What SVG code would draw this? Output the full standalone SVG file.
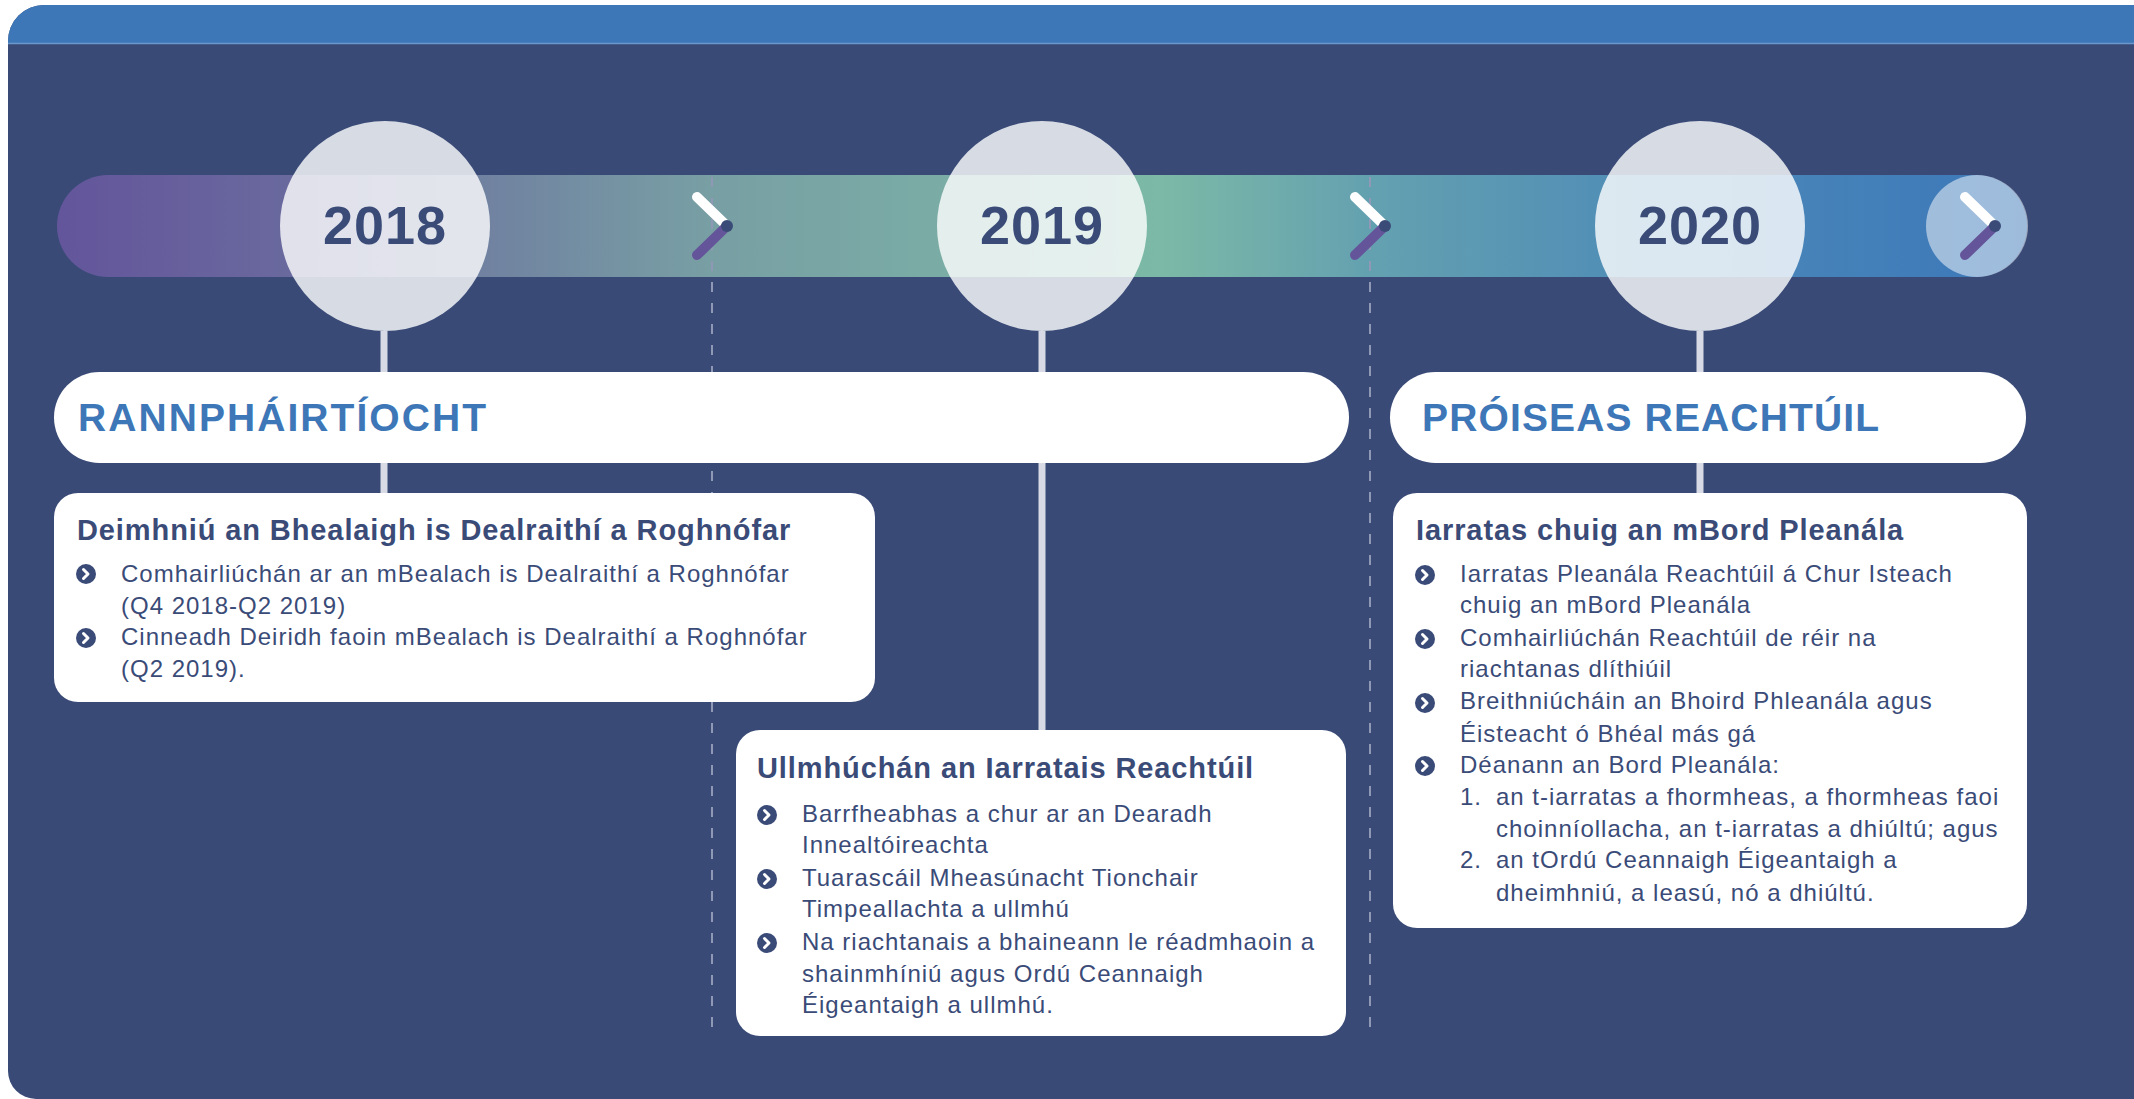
<svg xmlns="http://www.w3.org/2000/svg" xmlns:xlink="http://www.w3.org/1999/xlink" width="2134" height="1099" viewBox="0 0 2134 1099">
<defs>
<style>
.hd{font-family:"Liberation Sans",Arial,sans-serif;font-weight:bold;fill:#3d77b8;font-size:39px}
.yr{font-family:"Liberation Sans",Arial,sans-serif;font-weight:bold;fill:#3a4b78;font-size:54px;letter-spacing:1px}
.tt{font-family:"Liberation Sans",Arial,sans-serif;font-weight:bold;fill:#3a4b78;font-size:29px;letter-spacing:0.9px}
.tx{font-family:"Liberation Sans",Arial,sans-serif;fill:#3a4b78;font-size:24px;letter-spacing:1px}
.vl{stroke:#d8dbe6;stroke-width:7}
.dl{stroke:#8f99b6;stroke-width:2;stroke-dasharray:10 11}
.yc{fill:#ffffff;fill-opacity:0.8}
.pill{fill:#ffffff}
.box{fill:#ffffff}
</style>
<linearGradient id="barg" gradientUnits="userSpaceOnUse" x1="57" y1="0" x2="2027" y2="0">
<stop offset="0" stop-color="#63559b"/>
<stop offset="0.123" stop-color="#6a6a9e"/>
<stop offset="0.332" stop-color="#789fa4"/>
<stop offset="0.56" stop-color="#7cb9a6"/>
<stop offset="0.666" stop-color="#64a1b0"/>
<stop offset="0.834" stop-color="#4b88b8"/>
<stop offset="1" stop-color="#3c77b9"/>
</linearGradient>
<g id="chev">
<line x1="-30" y1="-29" x2="0" y2="0" stroke="#ffffff" stroke-width="10" stroke-linecap="round"/>
<line x1="0" y1="0" x2="-30" y2="29" stroke="#64559a" stroke-width="10" stroke-linecap="round"/>
<circle cx="0" cy="0" r="6" fill="#3a4b78"/>
</g>
<g id="bul">
<circle r="10" fill="#3a4b78"/>
<path d="M-2.5,-4.5 L2,0 L-2.5,4.5" stroke="#ffffff" stroke-width="3" fill="none" stroke-linecap="round" stroke-linejoin="round"/>
</g>
</defs>

<rect x="0" y="0" width="2134" height="1099" fill="#ffffff"/>
<g id="card">
<path d="M8,41 A36,36 0 0 1 44,5 L2134,5 L2134,1099 L36,1099 A28,28 0 0 1 8,1071 Z" fill="#394a77"/>
<path d="M8,43 L8,41 A36,36 0 0 1 44,5 L2134,5 L2134,43 Z" fill="#3d77b8"/>
<line x1="8" y1="43.5" x2="2134" y2="43.5" stroke="#6d97cc" stroke-width="1.5"/>
</g>

<g id="timeline">
<rect x="57" y="175" width="1970" height="102" rx="51" fill="url(#barg)"/>
</g>

<g id="connectors">
<line class="dl" x1="712" y1="177" x2="712" y2="1037"/>
<line class="dl" x1="1370" y1="177" x2="1370" y2="1037"/>
<line class="vl" x1="384" y1="331" x2="384" y2="495"/>
<line class="vl" x1="1042" y1="331" x2="1042" y2="732"/>
<line class="vl" x1="1700" y1="331" x2="1700" y2="495"/>
<use xlink:href="#chev" x="727" y="226"/>
<use xlink:href="#chev" x="1385" y="226"/>
</g>

<g id="end">
<circle cx="1977" cy="226" r="51" fill="#ffffff" fill-opacity="0.5"/>
<use xlink:href="#chev" x="1995" y="226"/>
</g>

<g id="y2018">
<circle class="yc" cx="385" cy="226" r="105"/>
<text class="yr" x="385" y="244" text-anchor="middle">2018</text>
</g>
<g id="y2019">
<circle class="yc" cx="1042" cy="226" r="105"/>
<text class="yr" x="1042" y="244" text-anchor="middle">2019</text>
</g>
<g id="y2020">
<circle class="yc" cx="1700" cy="226" r="105"/>
<text class="yr" x="1700" y="244" text-anchor="middle">2020</text>
</g>

<g id="phase1">
<rect class="pill" x="54" y="372" width="1295" height="91" rx="45.5"/>
<text class="hd" x="78" y="431" textLength="408" lengthAdjust="spacing">RANNPHÁIRTÍOCHT</text>
</g>
<g id="phase2">
<rect class="pill" x="1390" y="372" width="636" height="91" rx="45.5"/>
<text class="hd" x="1422" y="431" textLength="457" lengthAdjust="spacing">PRÓISEAS REACHTÚIL</text>
</g>

<g id="box1">
<rect class="box" x="54" y="493" width="821" height="209" rx="24"/>
<text class="tt" x="77" y="540">Deimhniú an Bhealaigh is Dealraithí a Roghnófar</text>
<use xlink:href="#bul" x="86" y="574"/>
<use xlink:href="#bul" x="86" y="638"/>
<text class="tx" x="121" y="582">Comhairliúchán ar an mBealach is Dealraithí a Roghnófar</text>
<text class="tx" x="121" y="614">(Q4 2018-Q2 2019)</text>
<text class="tx" x="121" y="645">Cinneadh Deiridh faoin mBealach is Dealraithí a Roghnófar</text>
<text class="tx" x="121" y="677">(Q2 2019).</text>
</g>

<g id="box2">
<rect class="box" x="736" y="730" width="610" height="306" rx="24"/>
<text class="tt" x="757" y="778">Ullmhúchán an Iarratais Reachtúil</text>
<use xlink:href="#bul" x="767" y="815"/>
<use xlink:href="#bul" x="767" y="879"/>
<use xlink:href="#bul" x="767" y="943"/>
<text class="tx" x="802" y="822">Barrfheabhas a chur ar an Dearadh</text>
<text class="tx" x="802" y="853">Innealtóireachta</text>
<text class="tx" x="802" y="886">Tuarascáil Mheasúnacht Tionchair</text>
<text class="tx" x="802" y="917">Timpeallachta a ullmhú</text>
<text class="tx" x="802" y="950">Na riachtanais a bhaineann le réadmhaoin a</text>
<text class="tx" x="802" y="982">shainmhíniú agus Ordú Ceannaigh</text>
<text class="tx" x="802" y="1013">Éigeantaigh a ullmhú.</text>
</g>

<g id="box3">
<rect class="box" x="1393" y="493" width="634" height="435" rx="24"/>
<text class="tt" x="1416" y="540">Iarratas chuig an mBord Pleanála</text>
<use xlink:href="#bul" x="1425" y="575"/>
<use xlink:href="#bul" x="1425" y="639"/>
<use xlink:href="#bul" x="1425" y="703"/>
<use xlink:href="#bul" x="1425" y="766"/>
<text class="tx" x="1460" y="582">Iarratas Pleanála Reachtúil á Chur Isteach</text>
<text class="tx" x="1460" y="613">chuig an mBord Pleanála</text>
<text class="tx" x="1460" y="646">Comhairliúchán Reachtúil de réir na</text>
<text class="tx" x="1460" y="677">riachtanas dlíthiúil</text>
<text class="tx" x="1460" y="709">Breithniúcháin an Bhoird Phleanála agus</text>
<text class="tx" x="1460" y="742">Éisteacht ó Bhéal más gá</text>
<text class="tx" x="1460" y="773">Déanann an Bord Pleanála:</text>
<text class="tx" x="1460" y="805">1.</text>
<text class="tx" x="1496" y="805">an t-iarratas a fhormheas, a fhormheas faoi</text>
<text class="tx" x="1496" y="837">choinníollacha, an t-iarratas a dhiúltú; agus</text>
<text class="tx" x="1460" y="868">2.</text>
<text class="tx" x="1496" y="868">an tOrdú Ceannaigh Éigeantaigh a</text>
<text class="tx" x="1496" y="901">dheimhniú, a leasú, nó a dhiúltú.</text>
</g>
</svg>
